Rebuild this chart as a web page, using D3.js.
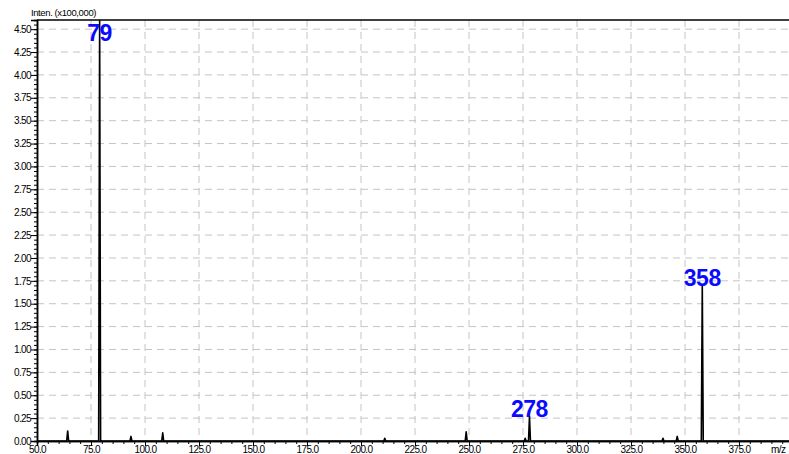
<!DOCTYPE html>
<html>
<head>
<meta charset="utf-8">
<script src="https://cdn.jsdelivr.net/npm/d3@7"></script>
<style>
  body { margin: 0; background: #fff; }
  svg { display: block; font-family: "Liberation Sans", Arial, sans-serif; }
</style>
</head>
<body>
<div id="chart"></div>
<script>
// peaks (m/z, intensity x100,000)
const peakMz = [64.2, 79, 93.5, 108.2, 211, 248.7, 276, 278, 339.8, 346.4, 358];
const peakInt = [0.11, 4.62, 0.05, 0.09, 0.03, 0.10, 0.03, 0.27, 0.03, 0.05, 1.70];

// labelled peaks
const labelMz = [79, 278, 358];
const labelText = ["79", "278", "358"];

const xTicks = [50, 75, 100, 125, 150, 175, 200, 225, 250, 275, 300, 325, 350, 375];
const yTicks = [0, 0.25, 0.5, 0.75, 1, 1.25, 1.5, 1.75, 2, 2.25, 2.5, 2.75, 3, 3.25, 3.5, 3.75, 4, 4.25, 4.5];

const width = 789, height = 454;
const mLeft = 37, mTop = 20, mBottom = 441;

const x = d3.scaleLinear().domain([50, 400]).range([mLeft, mLeft + 350 * 2.16]);
const y = d3.scaleLinear().domain([0, 4.6]).range([mBottom, mTop]);

const svg = d3.select("#chart").append("svg")
  .attr("width", width)
  .attr("height", height);

// grid
svg.append("g").selectAll("line")
  .data(xTicks.slice(1))
  .enter().append("line")
    .attr("x1", d => x(d)).attr("x2", d => x(d))
    .attr("y1", mTop).attr("y2", mBottom)
    .attr("stroke", "#c4c4c4").attr("stroke-dasharray", "7,5");

svg.append("g").selectAll("line")
  .data(yTicks.slice(1))
  .enter().append("line")
    .attr("x1", mLeft).attr("x2", width)
    .attr("y1", d => y(d)).attr("y2", d => y(d))
    .attr("stroke", "#c4c4c4").attr("stroke-dasharray", "7,5");

// axes
let axeX = d3.axisBottom(x).tickValues(xTicks).tickSize(5).tickFormat(d3.format(".1f"));
let axeXminor = d3.axisBottom(x).tickValues(d3.range(50, 400, 5)).tickSize(3).tickFormat("");
let axeY = d3.axisLeft(y).tickValues(yTicks).tickSize(6).tickFormat(d3.format(".2f"));
let axeYminor = d3.axisLeft(y).tickValues(d3.range(0, 4.61, 0.05)).tickSize(3).tickFormat("");

function styleAxis(g) {
  g.select(".domain").attr("stroke", "#000").attr("stroke-width", 1.5);
  g.selectAll(".tick line").attr("stroke", "#000");
  g.selectAll("text").attr("fill", "#000").style("font-size", "10px")
    .style("letter-spacing", "-0.6px");
}

svg.append("g").attr("transform", `translate(0,${mBottom})`).call(axeXminor).call(styleAxis);
svg.append("g").attr("transform", `translate(0,${mBottom})`).call(axeX).call(styleAxis)
  .selectAll("text").attr("dy", "0").attr("y", 12);
svg.append("g").attr("transform", `translate(${mLeft},0)`).call(axeYminor).call(styleAxis);
svg.append("g").attr("transform", `translate(${mLeft},0)`).call(axeY).call(styleAxis)
  .selectAll("text").attr("x", -6);

// frame top
svg.append("line")
  .attr("x1", mLeft).attr("x2", width)
  .attr("y1", mTop).attr("y2", mTop)
  .attr("stroke", "#000").attr("stroke-width", 1.5);

// spectrum trace
svg.append("clipPath").attr("id", "plotclip")
  .append("rect").attr("x", mLeft).attr("y", mTop)
  .attr("width", width - mLeft).attr("height", mBottom - mTop + 2);

let line = d3.line().x(d => x(d[0])).y(d => y(d[1]));
let pts = [[50, 0]];
peakMz.forEach((m, i) => {
  pts.push([m - 0.45, 0], [m, peakInt[i]], [m + 0.45, 0]);
});
pts.push([400, 0]);

svg.append("path")
  .attr("clip-path", "url(#plotclip)")
  .attr("d", line(pts))
  .attr("fill", "none")
  .attr("stroke", "#000")
  .attr("stroke-width", 1.6)
  .attr("stroke-linejoin", "round");

// peak labels
svg.append("g").selectAll("text")
  .data(labelMz)
  .enter().append("text")
    .attr("x", d => x(d))
    .attr("y", d => Math.max(y(peakInt[peakMz.indexOf(d)]), 40) + 1)
    .attr("text-anchor", "middle")
    .attr("fill", "#0a0aff")
    .style("font-size", "23px")
    .style("font-weight", "bold")
    .style("letter-spacing", "-0.5px")
    .text((d, i) => labelText[i]);

// axis titles
svg.append("text")
  .attr("x", 31).attr("y", 16)
  .style("font-size", "9.5px")
  .style("letter-spacing", "-0.4px")
  .text("Inten. (x100,000)");

svg.append("text")
  .attr("x", 771).attr("y", 453)
  .style("font-size", "10px")
  .style("letter-spacing", "-0.6px")
  .text("m/z");
</script>
</body>
</html>
